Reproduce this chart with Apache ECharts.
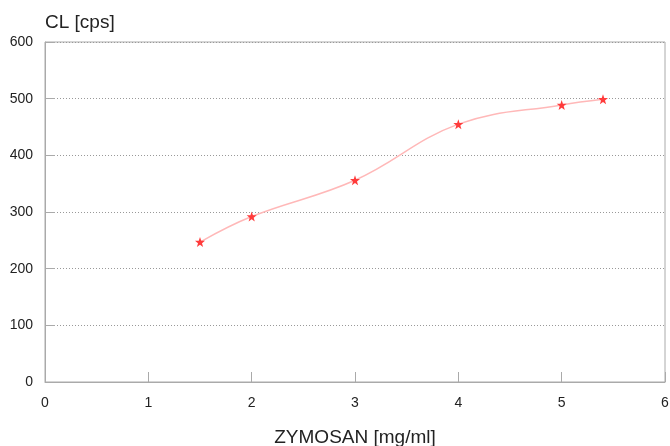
<!DOCTYPE html>
<html><head><meta charset="utf-8">
<script src="https://cdn.jsdelivr.net/npm/echarts@6/dist/echarts.min.js"></script>
<style>html,body{margin:0;padding:0;background:#fff}#c{width:670px;height:446px}</style>
</head><body><div id="c"></div>
<script>
var xValues = [1.5, 2, 3, 4, 5, 5.4];
var yValues = [247, 292, 356, 455, 489, 499];
var xTicks = [0, 1, 2, 3, 4, 5, 6];
var yTicks = [0, 100, 200, 300, 400, 500, 600];

var chart = echarts.init(document.getElementById('c'));
var star = 'path://M0,-10 L2.35,-3.24 L9.51,-3.09 L3.8,1.24 L5.88,8.09 L0,4 L-5.88,8.09 L-3.8,1.24 L-9.51,-3.09 L-2.35,-3.24 Z';
chart.setOption({
  animation: false,
  grid: {left: 45, right: 5, top: 42, bottom: 64, show: true, borderColor: '#aaa', borderWidth: 1, outerBoundsMode: 'none', containLabel: false},
  xAxis: {
    type: 'value', min: 0, max: 6, interval: 1,
    name: 'ZYMOSAN [mg/ml]', nameLocation: 'middle', nameGap: 46,
    nameTextStyle: {fontSize: 19, color: '#222', fontFamily: 'Liberation Sans'},
    axisLine: {show: true, lineStyle: {color: '#aaa'}},
    axisTick: {show: true, inside: true, length: 10, lineStyle: {color: '#aaa'}},
    axisLabel: {color: '#222', fontSize: 14, margin: 14, fontFamily: 'Liberation Sans'},
    splitLine: {show: false}
  },
  yAxis: {
    type: 'value', min: 0, max: 600, interval: 100,
    name: 'CL [cps]', nameLocation: 'end', nameGap: 10,
    nameTextStyle: {fontSize: 19, color: '#222', align: 'left', fontFamily: 'Liberation Sans'},
    axisLine: {show: true, lineStyle: {color: '#aaa'}},
    axisTick: {show: true, inside: true, length: 10, lineStyle: {color: '#aaa'}},
    axisLabel: {color: '#222', fontSize: 14, margin: 12, fontFamily: 'Liberation Sans'},
    splitLine: {show: true, lineStyle: {color: '#999', type: [1, 2], width: 1}}
  },
  series: [{
    type: 'line',
    data: xValues.map(function (x, i) { return [x, yValues[i]]; }),
    smooth: 0.4,
    symbol: star, symbolSize: 10,
    itemStyle: {color: '#ff3b3b'},
    lineStyle: {color: '#ffb8b8', width: 1.5}
  }]
});
</script></body></html>
